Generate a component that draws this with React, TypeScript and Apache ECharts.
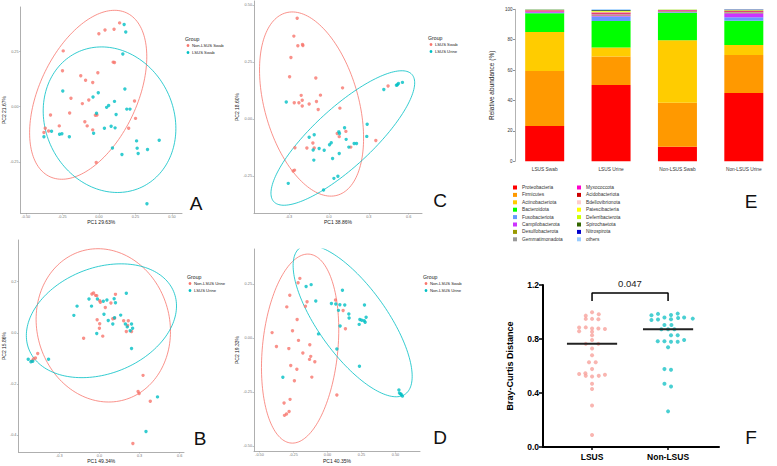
import React, { useEffect, useRef } from "react";
import * as echarts from "echarts";

const RED = "#F8766D";
const CYAN = "#00BFC4";

// ---------- Panel A : Non-LSUS Swab vs LSUS Swab ----------
const aNames = ["Non-LSUS Swab", "LSUS Swab"];
const aRed = [[0.142,0.380],[0.104,0.351],[0.042,0.348],[0.000,0.331],[-0.244,0.253],[0.098,0.202],[0.107,0.200],[-0.249,0.163],[-0.007,0.154],[-0.124,0.140],[-0.091,0.120],[-0.042,0.110],[-0.191,0.038],[-0.069,0.030],[-0.113,0.014],[0.244,0.026],[-0.200,-0.029],[-0.331,-0.038],[-0.024,-0.039],[-0.013,-0.038],[0.251,-0.053],[-0.096,-0.068],[-0.080,-0.087],[-0.271,-0.087],[-0.367,-0.098],[0.204,-0.098],[-0.344,-0.110],[-0.042,-0.105],[-0.376,-0.117],[-0.018,-0.253]];
const aCyan = [[0.173,0.373],[0.184,0.339],[0.164,0.239],[-0.247,0.071],[-0.004,0.063],[0.178,0.080],[-0.040,0.044],[0.107,0.024],[0.067,0.005],[0.053,-0.003],[0.191,-0.011],[0.213,-0.011],[-0.016,-0.030],[0.118,-0.035],[0.038,-0.098],[0.084,-0.089],[0.111,-0.096],[-0.324,-0.111],[-0.253,-0.123],[-0.269,-0.125],[-0.202,-0.136],[-0.036,-0.120],[-0.376,-0.136],[0.258,-0.155],[0.413,-0.152],[0.262,-0.188],[0.333,-0.194],[0.093,-0.187],[0.158,-0.217],[0.269,-0.212],[0.329,-0.440]];
// ellipse: [cx, cy, sdx, sdy, rho]
const aEllRed = [-0.073, 0.054, 0.401, 0.383, 0.45];
const aEllCyan = [0.073, -0.059, 0.454, 0.330, -0.12];
const aXTicks = [-0.5, -0.25, 0, 0.25, 0.5];
const aYTicks = [-0.25, 0, 0.25];

// ---------- Panel C : LSUS Swab vs LSUS Urine ----------
const cNames = ["LSUS Swab", "LSUS Urine"];
const cRed = [[-0.238,0.442],[-0.263,0.364],[-0.233,0.322],[-0.198,0.327],[-0.195,0.323],[-0.285,0.270],[-0.295,0.186],[-0.098,0.180],[0.103,0.137],[-0.063,0.105],[-0.208,0.104],[-0.200,0.083],[-0.093,0.077],[-0.225,0.072],[-0.260,0.072],[-0.148,0.066],[-0.200,0.057],[-0.080,0.042],[0.083,0.048],[0.445,0.145],[0.063,-0.063],[0.128,-0.054],[0.078,-0.077],[0.165,-0.123],[-0.120,-0.105],[-0.255,-0.126],[-0.165,-0.127],[-0.110,-0.127],[0.353,-0.094],[-0.258,-0.224],[-0.268,-0.228]];
const cCyan = [[-0.320,0.075],[0.413,0.130],[0.508,0.148],[0.523,0.156],[0.553,0.161],[0.515,0.151],[0.288,-0.023],[0.118,-0.038],[0.075,-0.056],[0.080,-0.063],[0.130,-0.089],[0.285,-0.076],[-0.148,-0.080],[-0.110,-0.069],[-0.073,-0.129],[-0.035,-0.137],[0.005,-0.113],[0.018,-0.104],[-0.118,-0.136],[0.150,-0.123],[0.190,-0.107],[0.208,-0.107],[0.078,-0.151],[0.028,-0.173],[-0.113,-0.180],[0.068,-0.251],[0.038,-0.260],[-0.305,-0.282],[-0.040,-0.311]];
const cEllRed = [-0.13, 0.066, 0.391, 0.404, -0.37];
const cEllCyan = [0.105, -0.083, 0.54, 0.295, 0.82];
const cXTicks = [-0.3, 0, 0.3, 0.6];
const cYTicks = [-0.25, 0, 0.25, 0.5];

// ---------- Panel B : Non-LSUS Urine vs LSUS Urine ----------
const bNames = ["Non-LSUS Urine", "LSUS Urine"];
const bRed = [[-0.056,0.151],[-0.044,0.155],[-0.029,0.146],[-0.020,0.145],[0.002,0.125],[0.007,0.119],[0.120,0.150],[0.086,0.116],[0.044,0.099],[-0.017,0.051],[0.002,0.035],[0.000,0.018],[0.025,-0.013],[-0.118,-0.021],[0.100,0.055],[0.113,0.057],[0.181,0.047],[0.216,0.047],[0.211,0.029],[0.201,0.005],[0.240,0.005],[-0.461,-0.081],[-0.478,-0.098],[-0.505,-0.110],[-0.493,-0.102],[0.326,-0.166],[0.289,-0.229],[0.297,-0.237],[0.380,-0.267],[0.250,-0.432]];
const bCyan = [[-0.078,0.132],[-0.059,0.104],[-0.167,0.104],[-0.191,0.068],[-0.015,0.132],[0.029,0.123],[0.056,0.128],[0.110,0.133],[0.120,0.117],[0.201,0.154],[0.034,0.072],[0.066,0.048],[0.100,0.034],[0.113,0.059],[0.159,0.069],[0.194,0.034],[0.208,0.023],[0.240,0.034],[0.248,0.018],[0.230,0.008],[-0.020,-0.003],[0.240,-0.061],[-0.532,-0.103],[-0.512,-0.113],[-0.498,-0.111],[-0.380,-0.103],[0.434,-0.250],[0.348,-0.385]];
const bEllRed = [0.029, 0.029, 0.502, 0.299, -0.08];
const bEllCyan = [0.015, 0.047, 0.561, 0.222, 0.26];
const bXTicks = [-0.3, 0, 0.3, 0.6];
const bYTicks = [-0.4, -0.2, 0, 0.2];

// ---------- Panel D : Non-LSUS Swab vs Non-LSUS Urine ----------
const dNames = ["Non-LSUS Swab", "Non-LSUS Urine"];
const dRed = [[-0.203,0.276],[-0.216,0.256],[-0.277,0.198],[-0.299,0.144],[-0.162,0.147],[-0.150,0.168],[-0.223,0.086],[-0.257,0.034],[-0.407,0.025],[-0.375,-0.039],[-0.213,-0.011],[-0.284,-0.049],[-0.130,-0.031],[-0.181,-0.069],[-0.123,-0.085],[-0.132,-0.099],[-0.093,-0.110],[-0.270,-0.127],[-0.225,-0.145],[-0.115,-0.181],[-0.243,-0.198],[0.059,0.176],[0.115,0.127],[0.132,0.043],[0.069,-0.264],[-0.275,-0.284],[-0.319,-0.301],[-0.282,-0.340],[-0.301,-0.352],[-0.316,-0.358]];
const dCyan = [[-0.120,0.247],[-0.157,0.238],[0.110,0.221],[-0.086,0.171],[0.029,0.160],[0.061,0.157],[0.091,0.154],[0.127,0.153],[0.272,0.153],[0.081,0.128],[0.157,0.111],[0.159,0.093],[0.238,0.086],[0.252,0.082],[0.270,0.080],[0.284,0.096],[0.277,0.073],[0.233,0.063],[0.093,0.056],[-0.066,0.019],[0.069,-0.051],[0.235,-0.131],[-0.328,-0.182],[0.525,-0.241],[0.529,-0.255],[0.539,-0.259],[0.551,-0.269],[0.542,-0.262]];
const dEllRed = [-0.201, -0.049, 0.284, 0.4375, 0.2];
const dEllCyan = [0.185, 0.079, 0.4375, 0.351, -0.73];
const dXTicks = [-0.5, -0.25, 0, 0.25, 0.5];
const dYTicks = [-0.5, -0.25, 0, 0.25];

// ---------- Panel E : relative abundance ----------
const eCategories = ["LSUS Swab", "LSUS Urine", "Non-LSUS Swab", "Non-LSUS Urine"];
const ePhyla = ["Proteobacteria","Firmicutes","Actinobacteriota","Bacteroidota","Fusobacteriota","Campilobacterota","Desulfobacterota","Gemmatimonadota","Myxococcota","Acidobacteriota","Bdellovibrionota","Patescibacteria","Deferribacterota","Spirochaetota","Nitrospirota","others"];
const eColors = ["#FF0000","#FF9900","#FFCC00","#00FF00","#6699FF","#CC33FF","#999900","#999999","#FF00CC","#CC0000","#FFCCCC","#FFFF00","#CCFF00","#336600","#0000CC","#99CCFF"];
const eLsusSwab = [23.2,36.2,25.7,12.3,0.4,0.5,0.2,0.1,0.4,0.3,0.2,0.1,0.1,0.1,0.1,0.1];
const eLsusUrine = [50.2,18.7,5.9,17.5,2.9,0.8,0.4,0.4,0.5,0.6,0.4,0.3,0.2,0.5,0.2,0.5];
const eNonLsusSwab = [9.6,29.0,41.0,18.2,0.2,0.6,0.3,0.2,0.2,0.2,0.1,0.1,0.1,0.1,0.05,0.05];
const eNonLsusUrine = [45.0,25.0,6.5,16.0,2.2,2.7,0.5,0.3,0.4,0.3,0.2,0.1,0.1,0.4,0.1,0.2];

// ---------- Panel F : Bray-Curtis distance ----------
const fCategories = ["LSUS", "Non-LSUS"];
// [jitter offset, distance]
const fLsus = [[0,0.998],[0.088,0.983],[-0.083,0.973],[-0.083,0.949],[0,0.949],[0.083,0.946],[-0.17,0.885],[-0.083,0.886],[-0.17,0.858],[0,0.878],[0.083,0.878],[0.17,0.874],[0,0.853],[0,0.828],[0,0.793],[-0.083,0.764],[0.083,0.764],[0,0.729],[0,0.680],[-0.04,0.628],[0.048,0.628],[0,0.577],[-0.17,0.540],[-0.088,0.547],[-0.083,0.527],[0,0.522],[0.088,0.527],[0.17,0.535],[0,0.468],[0,0.429],[0,0.308],[0,0.089]];
const fNonLsus = [[-0.219,0.976],[-0.132,0.986],[0.039,0.978],[0.127,0.988],[-0.048,0.959],[0.211,0.959],[0.325,0.951],[-0.219,0.941],[-0.132,0.944],[0.039,0.946],[0.132,0.956],[-0.048,0.904],[0.044,0.904],[-0.088,0.872],[0,0.872],[0.083,0.872],[0.039,0.828],[0.127,0.828],[-0.136,0.784],[-0.048,0.784],[0.127,0.779],[0.211,0.793],[0.039,0.779],[0,0.739],[-0.048,0.577],[0.039,0.572],[-0.048,0.468],[0.039,0.448],[0,0.264]];
const fMedians = [0.765, 0.872];
const fPValue = "0.047";

const FONT = "'Liberation Sans', Arial, sans-serif";

function ellipsePoints(p: number[]) {
  const [cx, cy, sx, sy, r] = p;
  const q = Math.sqrt(1 - r * r);
  const pts: number[][] = [];
  const n = 160;
  for (let i = 0; i <= n; i++) {
    const t = (2 * Math.PI * i) / n;
    pts.push([cx + sx * Math.cos(t), cy + sy * (r * Math.cos(t) + q * Math.sin(t))]);
  }
  return pts;
}

function pcoaAxis(gi: number, min: number, max: number, ticks: number[], dec: number, name: string, nameGap: number) {
  return {
    type: "value",
    gridIndex: gi,
    min,
    max,
    name,
    nameLocation: "middle",
    nameGap,
    nameTextStyle: { fontSize: 5, color: "#222", fontFamily: FONT },
    axisLine: { show: true, onZero: false, lineStyle: { color: "#9a9a9a", width: 0.8 } },
    axisTick: { show: true, length: 1.5, customValues: ticks, lineStyle: { color: "#9a9a9a", width: 0.6 } },
    axisLabel: {
      fontSize: 3.8,
      color: "#777",
      margin: 2,
      fontFamily: FONT,
      customValues: ticks,
      formatter: (v: number) => v.toFixed(dec),
    },
    splitLine: { show: false },
  };
}

function pcoaSeries(gi: number, red: number[][], cyan: number[][], ellRed: number[], ellCyan: number[], names: string[]) {
  const base = { xAxisIndex: gi, yAxisIndex: gi, silent: true };
  return [
    { ...base, type: "line", name: names[0] + " ellipse", data: ellipsePoints(ellRed), showSymbol: false, symbol: "none", lineStyle: { color: RED, width: 0.8 }, z: 1 },
    { ...base, type: "line", name: names[1] + " ellipse", data: ellipsePoints(ellCyan), showSymbol: false, symbol: "none", lineStyle: { color: CYAN, width: 0.8 }, z: 1 },
    { ...base, type: "scatter", name: names[0], data: red, symbolSize: 3.4, itemStyle: { color: RED }, z: 3 },
    { ...base, type: "scatter", name: names[1], data: cyan, symbolSize: 3.4, itemStyle: { color: CYAN }, z: 3 },
  ];
}

function legendGraphic(x: number, y: number, names: string[]) {
  return [
    { type: "text", left: x, top: y, style: { text: "Group", fontSize: 5.2, fill: "#222", fontFamily: FONT } },
    { type: "circle", shape: { cx: x + 3, cy: y + 9.5, r: 1.4 }, style: { fill: RED } },
    { type: "text", left: x + 7, top: y + 7.3, style: { text: names[0], fontSize: 4.2, fill: "#222", fontFamily: FONT } },
    { type: "circle", shape: { cx: x + 3, cy: y + 16.5, r: 1.4 }, style: { fill: CYAN } },
    { type: "text", left: x + 7, top: y + 14.3, style: { text: names[1], fontSize: 4.2, fill: "#222", fontFamily: FONT } },
  ];
}

function letter(t: string, x: number, y: number) {
  return { type: "text", x, y, style: { text: t, fontSize: 19, fill: "#111", fontFamily: FONT, align: "center", verticalAlign: "middle" } };
}

export default function App() {
  const ref = useRef<HTMLDivElement>(null);

  useEffect(() => {
    if (!ref.current) return;
    const chart = echarts.init(ref.current, undefined, { renderer: "svg" });

    const eSamples = [eLsusSwab, eLsusUrine, eNonLsusSwab, eNonLsusUrine];
    const eSeries = ePhyla.map((ph, i) => ({
      type: "bar",
      name: ph,
      stack: "abund",
      xAxisIndex: 4,
      yAxisIndex: 4,
      barWidth: 39,
      data: eSamples.map((s) => s[i]),
      itemStyle: { color: eColors[i] },
      silent: true,
    }));

    const eLegend: any[] = [];
    ePhyla.forEach((ph, i) => {
      const col = i < 8 ? 0 : 1;
      const row = i % 8;
      const x = col === 0 ? 513 : 577;
      const y = 187.5 + row * 7.4;
      eLegend.push({ type: "rect", shape: { x, y: y - 2, width: 4, height: 4 }, style: { fill: eColors[i] } });
      eLegend.push({ type: "text", x: x + 9, y, style: { text: ph, fontSize: 4.8, fill: "#333", fontFamily: FONT, verticalAlign: "middle" } });
    });

    const fx = (c: number, d: number[][]) => d.map((p) => [c + p[0], p[1]]);

    const option: any = {
      animation: false,
      textStyle: { fontFamily: FONT },
      grid: [
        { left: 16, top: 7, width: 166, height: 206 }, // A
        { left: 254, top: 1, width: 168, height: 212 }, // C
        { left: 16, top: 240, width: 168, height: 212 }, // B
        { left: 254, top: 249, width: 166, height: 202 }, // D
        { left: 511.5, top: 9.3, width: 280, height: 152 }, // E
        { left: 543, top: 285, width: 176, height: 162 }, // F
      ],
      xAxis: [
        pcoaAxis(0, -0.536, 0.569, aXTicks, 2, "PC1 29.63%", 6),
        pcoaAxis(1, -0.5625, 0.70, cXTicks, 1, "PC1 38.86%", 6),
        pcoaAxis(2, -0.605, 0.632, bXTicks, 1, "PC1 49.34%", 6),
        pcoaAxis(3, -0.54, 0.68, dXTicks, 2, "PC1 40.35%", 7),
        {
          type: "category",
          gridIndex: 4,
          data: eCategories,
          axisLine: { show: false },
          axisTick: { show: false },
          axisLabel: { fontSize: 4.8, color: "#333", margin: 6, interval: 0, fontFamily: FONT },
        },
        {
          type: "value",
          gridIndex: 5,
          min: 0.355,
          max: 2.67,
          axisLine: { show: true, onZero: false, lineStyle: { color: "#000", width: 2 } },
          axisTick: { show: true, length: 3, customValues: [1, 2], lineStyle: { color: "#000", width: 1.5 } },
          axisLabel: {
            customValues: [1, 2],
            formatter: (v: number) => fCategories[Math.round(v) - 1] ?? "",
            fontSize: 8.5,
            fontWeight: "bold",
            color: "#000",
            margin: 5,
            fontFamily: FONT,
          },
          splitLine: { show: false },
        },
      ],
      yAxis: [
        pcoaAxis(0, -0.482, 0.452, aYTicks, 2, "PC2 21.67%", 11),
        pcoaAxis(1, -0.412, 0.518, cYTicks, 2, "PC2 18.60%", 11),
        pcoaAxis(2, -0.465, 0.362, bYTicks, 1, "PC2 15.86%", 9),
        pcoaAxis(3, -0.523, 0.412, dYTicks, 2, "PC2 19.33%", 11),
        {
          type: "value",
          gridIndex: 4,
          min: 0,
          max: 100,
          interval: 20,
          offset: -3.5,
          name: "Relative abundance (%)",
          nameLocation: "middle",
          nameGap: 20,
          nameTextStyle: { fontSize: 6.5, color: "#222", fontFamily: FONT },
          axisLine: { show: true, lineStyle: { color: "#666", width: 0.5 } },
          axisTick: { show: true, length: 2, lineStyle: { color: "#444", width: 0.6 } },
          axisLabel: { fontSize: 4.5, color: "#333", margin: 2.5, fontFamily: FONT },
          splitLine: { show: false },
        },
        {
          type: "value",
          gridIndex: 5,
          min: 0,
          max: 1.2,
          interval: 0.4,
          name: "Bray-Curtis Distance",
          nameLocation: "middle",
          nameGap: 29,
          nameTextStyle: { fontSize: 9, fontWeight: "bold", color: "#000", fontFamily: FONT },
          axisLine: { show: true, lineStyle: { color: "#000", width: 2 } },
          axisTick: { show: true, length: 4, lineStyle: { color: "#000", width: 1.5 } },
          axisLabel: { fontSize: 8.5, fontWeight: "bold", color: "#000", margin: 4, fontFamily: FONT, formatter: (v: number) => v.toFixed(1) },
          splitLine: { show: false },
        },
      ],
      series: [
        ...pcoaSeries(0, aRed, aCyan, aEllRed, aEllCyan, aNames),
        ...pcoaSeries(1, cRed, cCyan, cEllRed, cEllCyan, cNames),
        ...pcoaSeries(2, bRed, bCyan, bEllRed, bEllCyan, bNames),
        ...pcoaSeries(3, dRed, dCyan, dEllRed, dEllCyan, dNames),
        ...eSeries,
        { type: "scatter", name: "LSUS", xAxisIndex: 5, yAxisIndex: 5, data: fx(1, fLsus), symbolSize: 4, itemStyle: { color: "#F7A29C" }, silent: true },
        { type: "scatter", name: "Non-LSUS", xAxisIndex: 5, yAxisIndex: 5, data: fx(2, fNonLsus), symbolSize: 4, itemStyle: { color: "#1CC3C7" }, silent: true },
        { type: "line", xAxisIndex: 5, yAxisIndex: 5, data: [[0.67, fMedians[0]], [1.33, fMedians[0]]], symbol: "none", lineStyle: { color: "#222", width: 2 }, silent: true, z: 4 },
        { type: "line", xAxisIndex: 5, yAxisIndex: 5, data: [[1.67, fMedians[1]], [2.33, fMedians[1]]], symbol: "none", lineStyle: { color: "#222", width: 2 }, silent: true, z: 4 },
        { type: "line", xAxisIndex: 5, yAxisIndex: 5, data: [[1, 1.081], [1, 1.141], [2, 1.141], [2, 1.081]], symbol: "none", lineStyle: { color: "#000", width: 1.5 }, silent: true },
      ],
      graphic: [
        ...legendGraphic(185, 36, aNames),
        ...legendGraphic(428, 35, cNames),
        ...legendGraphic(187, 274, bNames),
        ...legendGraphic(423, 274, dNames),
        ...eLegend,
        { type: "text", x: 630, y: 283, style: { text: fPValue, fontSize: 9.5, fill: "#222", fontFamily: FONT, align: "center", verticalAlign: "middle" } },
        letter("A", 196, 203),
        letter("C", 440, 200),
        letter("E", 751, 201),
        letter("B", 200, 438),
        letter("D", 440, 437),
        letter("F", 751, 437),
      ],
    };

    chart.setOption(option);
    return () => chart.dispose();
  }, []);

  return <div ref={ref} style={{ position: "absolute", left: 0, top: 0, width: 777, height: 466, background: "#fff" }} />;
}
